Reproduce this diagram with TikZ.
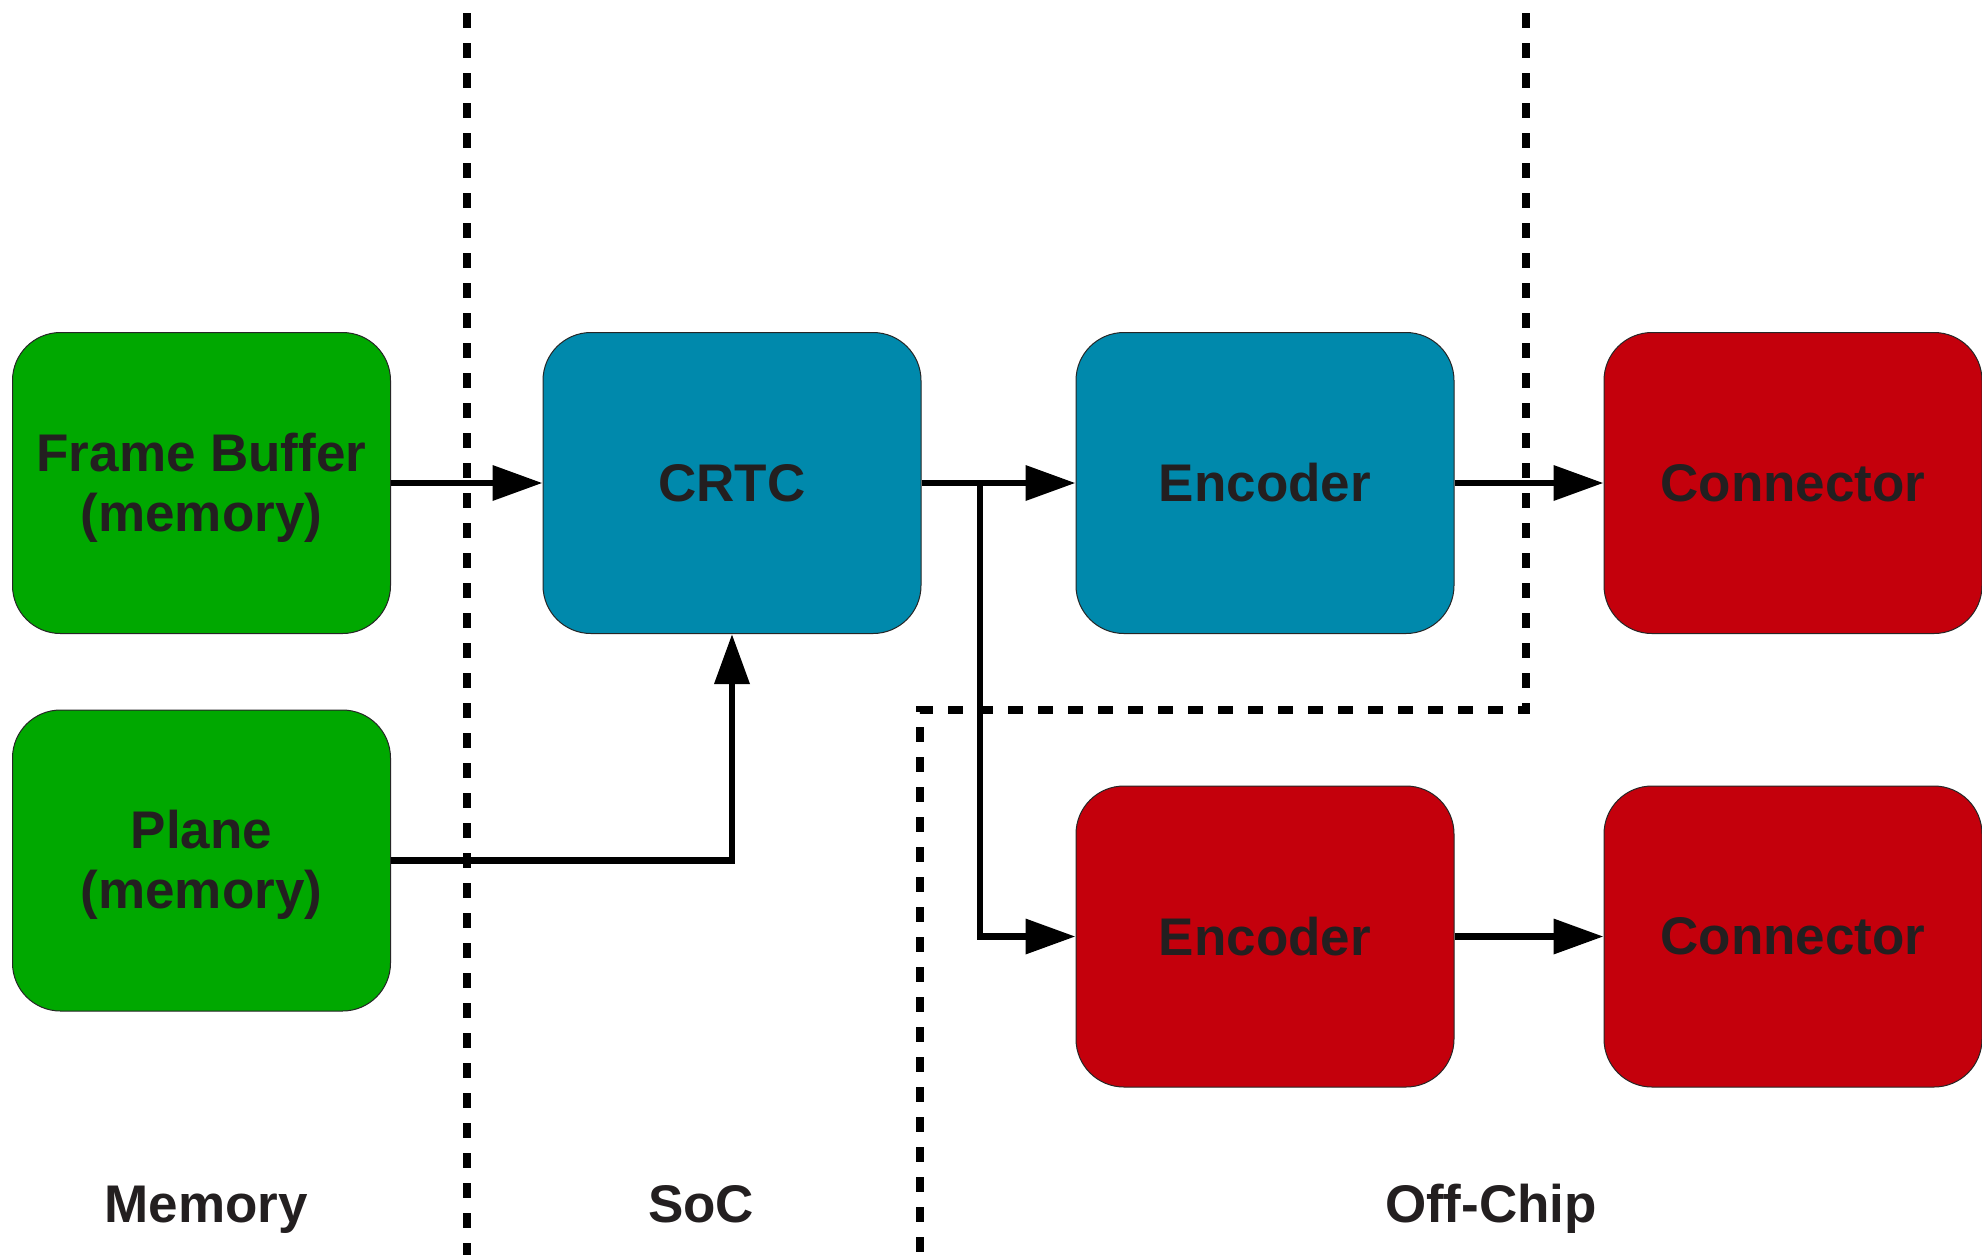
\documentclass[tikz,border=0pt]{standalone}
\usepackage{fontspec}
\setmainfont{Liberation Sans}
\usetikzlibrary{arrows.meta}

\definecolor{memgreen}{RGB}{0,168,0}
\definecolor{socblue}{RGB}{0,137,172}
\definecolor{offred}{RGB}{196,0,12}
\definecolor{inkgray}{RGB}{35,31,32}

% strut that lowers a two-line label slightly inside its block
\newcommand{\toplinestrut}{\rule{0pt}{23.5pt}}

\tikzset{
  block/.style={draw=black!85, line width=0.5pt, rounded corners=24pt,
    minimum width=189pt, minimum height=150.5pt, inner sep=0pt,
    align=center, text=inkgray,
    font=\fontsize{26.5}{30}\selectfont\bfseries},
  memblock/.style={block, fill=memgreen},
  socblock/.style={block, fill=socblue},
  offblock/.style={block, fill=offred},
  flow/.style={line width=3.4pt, -{Triangle[length=25pt,width=17pt]}},
  border/.style={line width=3.6pt, dash pattern=on 7.5pt off 7.5pt},
  region/.style={text=inkgray, anchor=base, font=\fontsize{26.5}{30}\selectfont\bfseries}
}

\begin{document}
\begin{tikzpicture}[x=0.5pt, y=-0.5pt]
  \useasboundingbox[fill=white] (0,0) rectangle (1982,1255);

  % domain borders
  \draw[border] (467,13) -- (467,1255);
  \draw[border] (1526,13) -- (1526,710) -- (920,710) -- (920,1255);

  % blocks
  \node[memblock] (fb)    at (201.5,483)  {\toplinestrut Frame Buffer\\(memory)};
  \node[memblock] (plane) at (201.5,860.5) {\toplinestrut Plane\\(memory)};
  \node[socblock] (crtc)  at (732,483)    {CRTC};
  \node[socblock] (enca)  at (1265,483)   {Encoder};
  \node[offblock] (conna) at (1793,483)   {Connector};
  \node[offblock] (encb)  at (1265,936.5) {Encoder};
  \node[offblock] (connb) at (1793,936.5) {Connector};

  % data paths
  \draw[flow] (fb.east) -- (crtc.west);
  \draw[flow] (plane.east) -| (crtc.south);
  \draw[flow] (crtc.east) -- (enca.west);
  \coordinate (split) at (980,483);
  \draw[flow] (split) |- (encb.west);
  \draw[flow] (enca.east) -- (conna.west);
  \draw[flow] (encb.east) -- (connb.west);

  % domain names
  \node[region] (lmem) at (206,1222) {Memory};
  \node[region] (lsoc) at (701,1222) {SoC};
  \node[region] (loff) at (1491,1222) {Off-Chip};
\end{tikzpicture}
\end{document}
